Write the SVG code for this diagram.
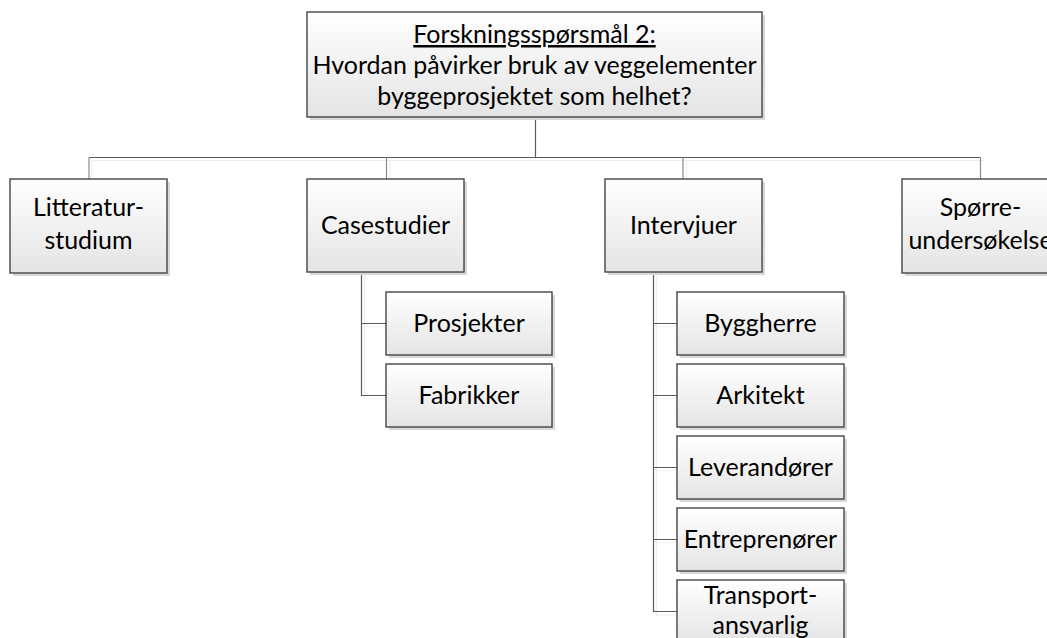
<svg xmlns="http://www.w3.org/2000/svg" width="1047" height="638" viewBox="0 0 1047 638">
  <defs>
    <linearGradient id="boxFill" x1="0" y1="0" x2="0" y2="1">
      <stop offset="0" stop-color="#ffffff"/>
      <stop offset="1" stop-color="#e4e4e4"/>
    </linearGradient>
    <style>
      .box { fill: url(#boxFill); stroke: #454545; stroke-width: 1.4; }
      .shadow { fill: #d9d9d9; }
      .lbl { font-family: Lato, "Liberation Sans", sans-serif; font-size: 25px; fill: #000; text-anchor: middle; }
      .ln { fill: none; stroke: #5a5a5a; stroke-width: 1.2; }
      .ln-soft { fill: none; stroke: #eeeeee; stroke-width: 1.2; }
    </style>
  </defs>
  <rect width="1047" height="638" fill="#ffffff"/>

  <!-- connectors -->
  <g id="connectors">
    <g class="ln-soft">
      <path d="M92 160.5H983.5M92 160.5V182M390 160.5V182M686.5 160.5V182"/>
      <path d="M364.5 275V398.5H389M364.5 326.5H389"/>
      <path d="M656.5 275V615H680M656.5 326.5H680M656.5 398.5H680M656.5 470.5H680M656.5 542.5H680"/>
    </g>
    <g class="ln">
      <path d="M535.5 117V157.5"/>
      <path d="M89 157.5H980.5"/>
      <path d="M89 157.5V179M386.5 157.5V179M683 157.5V179M980.5 157.5V179" stroke="#8a8a8a"/>
      <path d="M361.5 272V395.5H386M361.5 323.5H386"/>
      <path d="M653.5 272V611.5H677M653.5 323.5H677M653.5 395.5H677M653.5 467.5H677M653.5 539.5H677"/>
    </g>
  </g>

  <!-- research question -->
  <g id="question">
    <rect class="shadow" x="310" y="15" width="455" height="105"/>
    <rect class="box" x="307" y="12" width="455" height="105"/>
    <text class="lbl" x="534.5" y="43" text-decoration="underline">Forskningsspørsmål 2:</text>
    <text class="lbl" x="534.5" y="74">Hvordan påvirker bruk av veggelementer</text>
    <text class="lbl" x="534.5" y="105">byggeprosjektet som helhet?</text>
  </g>

  <!-- methods -->
  <g id="litteratur">
    <rect class="shadow" x="13" y="182" width="157" height="94"/>
    <rect class="box" x="10" y="179" width="157" height="94"/>
    <text class="lbl" x="88.5" y="216">Litteratur-</text>
    <text class="lbl" x="88.5" y="249">studium</text>
  </g>
  <g id="casestudier">
    <rect class="shadow" x="310" y="182" width="157" height="93"/>
    <rect class="box" x="307" y="179" width="157" height="93"/>
    <text class="lbl" x="385.5" y="234">Casestudier</text>
  </g>
  <g id="intervjuer">
    <rect class="shadow" x="608" y="182" width="157" height="93"/>
    <rect class="box" x="605" y="179" width="157" height="93"/>
    <text class="lbl" x="683.5" y="234">Intervjuer</text>
  </g>
  <g id="sporreundersokelse">
    <rect class="shadow" x="905" y="182" width="157" height="94"/>
    <rect class="box" x="902" y="179" width="157" height="94"/>
    <text class="lbl" x="980.5" y="216">Spørre-</text>
    <text class="lbl" x="980.5" y="249">undersøkelse</text>
  </g>

  <!-- case study items -->
  <g id="prosjekter">
    <rect class="shadow" x="389" y="295" width="166" height="63"/>
    <rect class="box" x="386" y="292" width="166" height="63"/>
    <text class="lbl" x="469" y="332">Prosjekter</text>
  </g>
  <g id="fabrikker">
    <rect class="shadow" x="389" y="367" width="166" height="63"/>
    <rect class="box" x="386" y="364" width="166" height="63"/>
    <text class="lbl" x="469" y="404">Fabrikker</text>
  </g>

  <!-- interviewees -->
  <g id="byggherre">
    <rect class="shadow" x="680" y="295" width="167" height="63"/>
    <rect class="box" x="677" y="292" width="167" height="63"/>
    <text class="lbl" x="760.5" y="332">Byggherre</text>
  </g>
  <g id="arkitekt">
    <rect class="shadow" x="680" y="367" width="167" height="63"/>
    <rect class="box" x="677" y="364" width="167" height="63"/>
    <text class="lbl" x="760.5" y="404">Arkitekt</text>
  </g>
  <g id="leverandorer">
    <rect class="shadow" x="680" y="439" width="167" height="63"/>
    <rect class="box" x="677" y="436" width="167" height="63"/>
    <text class="lbl" x="760.5" y="476">Leverandører</text>
  </g>
  <g id="entreprenorer">
    <rect class="shadow" x="680" y="511" width="167" height="63"/>
    <rect class="box" x="677" y="508" width="167" height="63"/>
    <text class="lbl" x="760.5" y="548">Entreprenører</text>
  </g>
  <g id="transportansvarlig">
    <rect class="shadow" x="680" y="583" width="167" height="63"/>
    <rect class="box" x="677" y="580" width="167" height="63"/>
    <text class="lbl" x="760.5" y="604">Transport-</text>
    <text class="lbl" x="760.5" y="634">ansvarlig</text>
  </g>
</svg>
